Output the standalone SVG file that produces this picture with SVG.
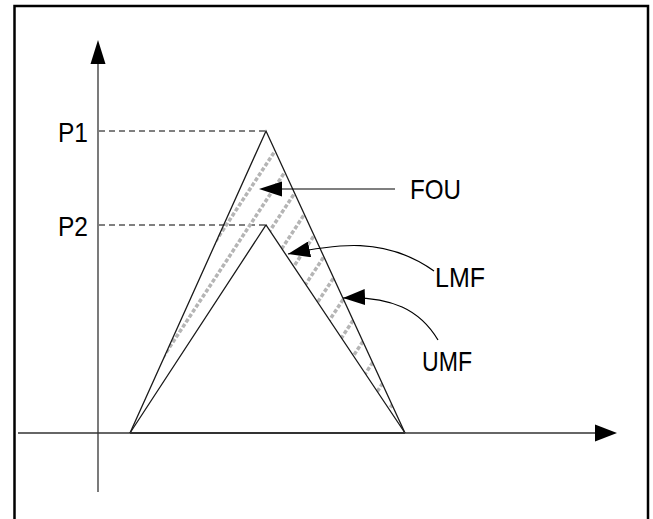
<svg xmlns="http://www.w3.org/2000/svg" width="653" height="519" viewBox="0 0 653 519">
<style>
  .lbl { font-family: "Liberation Sans", Arial, sans-serif; font-size: 28px; fill: #000; }
  .axis { stroke: #333; stroke-width: 1.3; fill: none; }
  .tri { stroke: #1a1a1a; stroke-width: 1.3; fill: none; stroke-linejoin: miter; }
  .dash { stroke: #000; stroke-width: 1; stroke-dasharray: 6 4; fill: none; }
  .hatch { stroke: #b5b5b5; stroke-width: 3.5; stroke-dasharray: 4 2; fill: none; }
  .conn { stroke: #000; stroke-width: 1.2; fill: none; }
</style>
<defs>
  <marker id="ahs" viewBox="0 0 22 16" refX="22" refY="8" markerWidth="22" markerHeight="16" markerUnits="userSpaceOnUse" orient="auto-start-reverse">
    <path d="M0,0 L22,8 L0,16 Z" fill="#000"/>
  </marker>
  <clipPath id="fou">
    <path clip-rule="evenodd" d="M130,433 L266,131 L405,433 Z M130,433 L266,225 L405,433 Z"/>
  </clipPath>
</defs>
<rect x="0" y="0" width="653" height="519" fill="#fff"/>
<rect x="14.5" y="6" width="633.5" height="530" fill="none" stroke="#000" stroke-width="2.5"/>

<g id="axes">
  <line class="axis" x1="98" y1="492" x2="98" y2="62"/>
  <polygon points="98,40 90.5,64 105.5,64" fill="#000"/>
  <line class="axis" x1="18" y1="433" x2="597" y2="433"/>
  <polygon points="617,433 595,424.5 595,441.5" fill="#000"/>
</g>

<g id="guides">
  <line class="dash" x1="99" y1="131" x2="266" y2="131"/>
  <line class="dash" x1="99" y1="225" x2="266" y2="225"/>
</g>

<g id="fou-region" clip-path="url(#fou)">
  <line class="hatch" x1="120" y1="386.6" x2="420" y2="-69.4"/>
  <line class="hatch" x1="120" y1="422.6" x2="420" y2="-33.4"/>
  <line class="hatch" x1="120" y1="458.6" x2="420" y2="2.6"/>
  <line class="hatch" x1="120" y1="494.6" x2="420" y2="38.6"/>
  <line class="hatch" x1="120" y1="530.6" x2="420" y2="74.6"/>
  <line class="hatch" x1="120" y1="566.6" x2="420" y2="110.6"/>
  <line class="hatch" x1="120" y1="602.6" x2="420" y2="146.6"/>
  <line class="hatch" x1="120" y1="638.6" x2="420" y2="182.6"/>
  <line class="hatch" x1="120" y1="674.6" x2="420" y2="218.6"/>
  <line class="hatch" x1="120" y1="710.6" x2="420" y2="254.6"/>
  <line class="hatch" x1="120" y1="746.6" x2="420" y2="290.6"/>
  <line class="hatch" x1="120" y1="782.6" x2="420" y2="326.6"/>
  <line class="hatch" x1="120" y1="818.6" x2="420" y2="362.6"/>
  <line class="hatch" x1="120" y1="854.6" x2="420" y2="398.6"/>
</g>

<g id="umf-curve">
  <polyline class="tri" points="130,433 266,131 405,433"/>
</g>
<g id="lmf-curve">
  <polyline class="tri" points="130,433 266,225 405,433"/>
</g>
<g id="base">
  <line x1="130" y1="433" x2="405" y2="433" stroke="#333" stroke-width="2"/>
</g>

<g id="connectors">
  <path class="conn" d="M281,189 L395,189"/>
  <polygon points="259,189 282,181.5 282,196.5" fill="#000"/>
  <path class="conn" d="M288,254 C335,244 385,236 434,271" marker-start="url(#ahs)"/>
  <path class="conn" d="M343,298 C392,296 420,310 438,340" marker-start="url(#ahs)"/>
</g>

<g id="label-p1"><text class="lbl" x="58" y="142" textLength="30" lengthAdjust="spacingAndGlyphs">P1</text></g>
<g id="label-p2"><text class="lbl" x="58" y="236" textLength="30" lengthAdjust="spacingAndGlyphs">P2</text></g>
<g id="label-fou"><text class="lbl" x="410" y="199" textLength="51" lengthAdjust="spacingAndGlyphs">FOU</text></g>
<g id="label-lmf"><text class="lbl" x="435" y="287" textLength="50" lengthAdjust="spacingAndGlyphs">LMF</text></g>
<g id="label-umf"><text class="lbl" x="422" y="371" textLength="50" lengthAdjust="spacingAndGlyphs">UMF</text></g>
</svg>
